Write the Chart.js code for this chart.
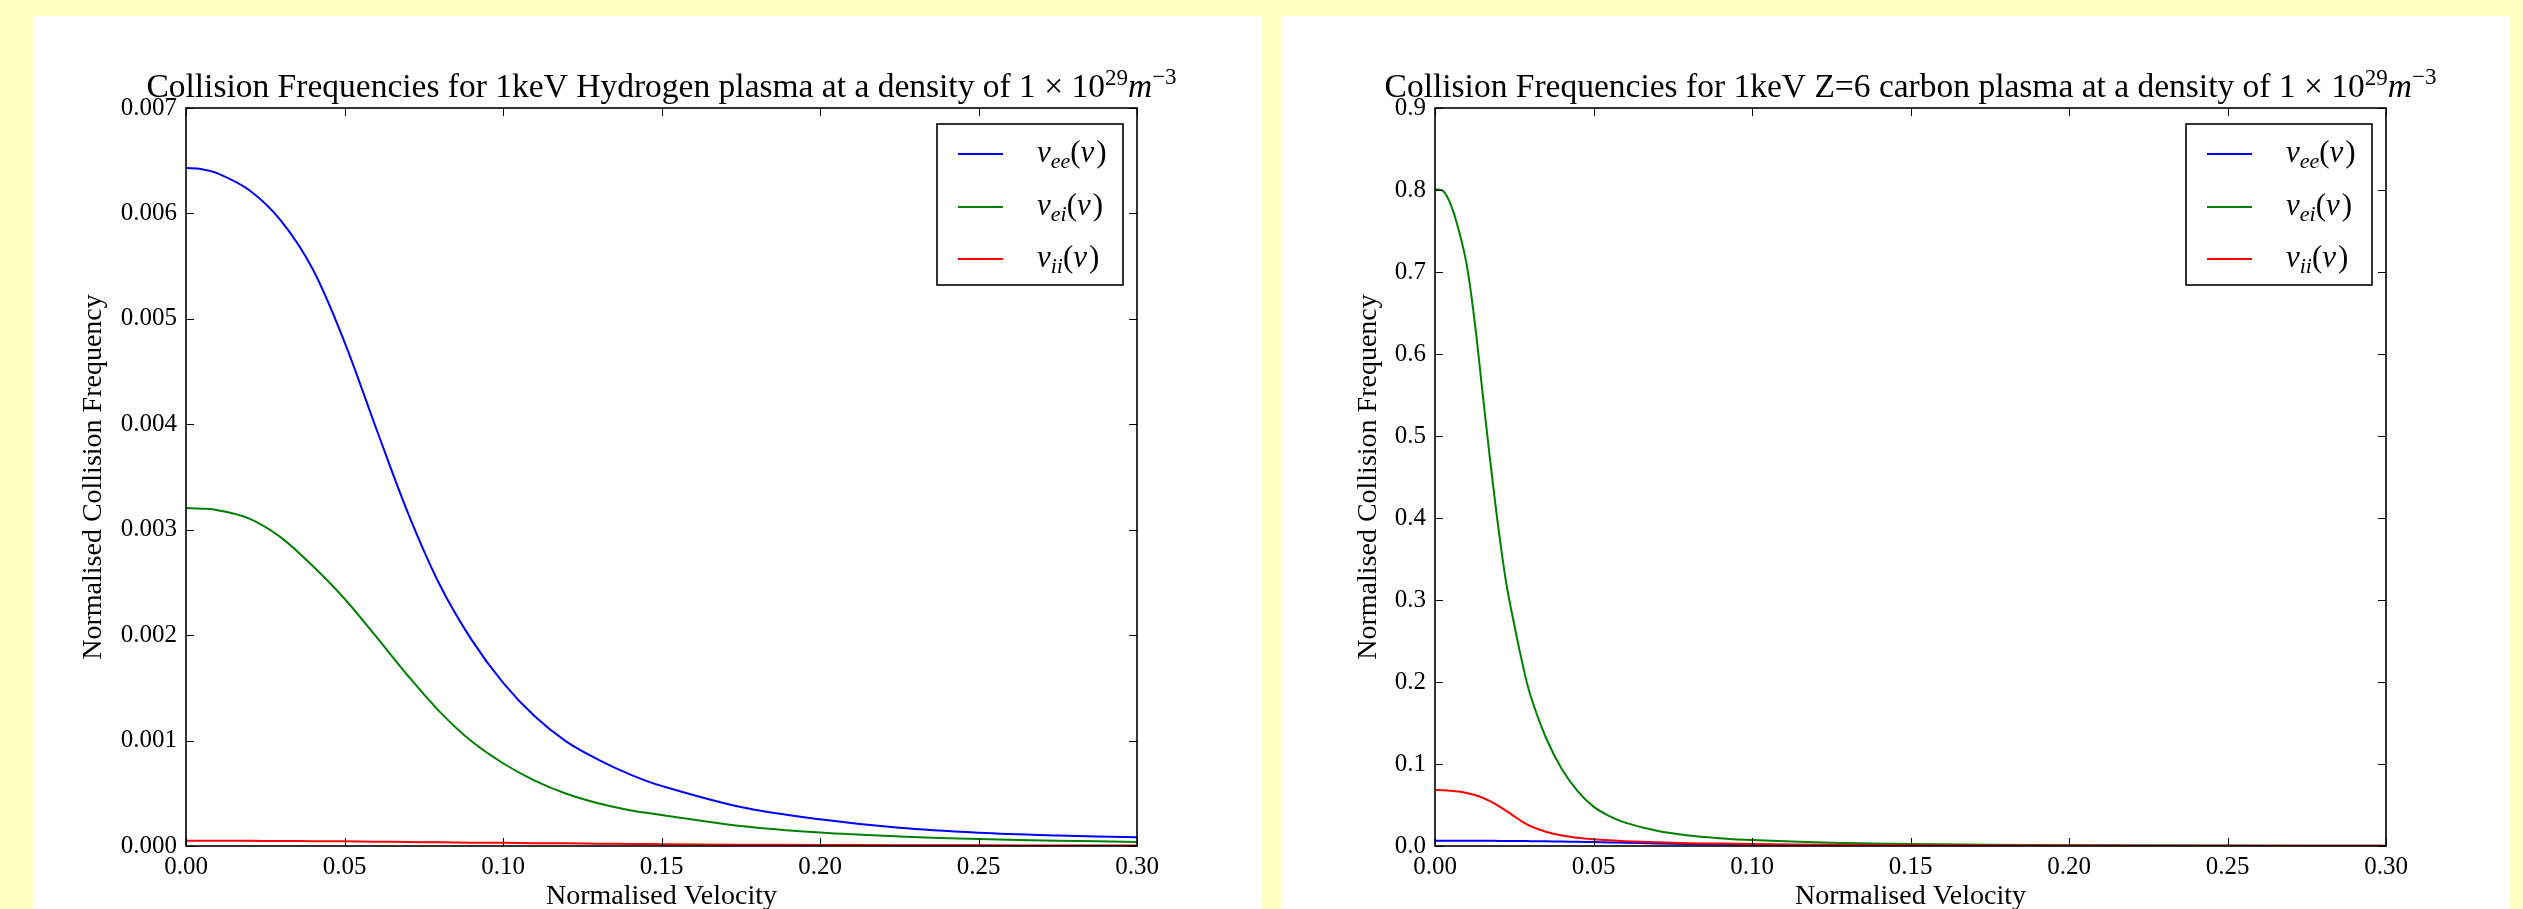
<!DOCTYPE html>
<html>
<head>
<meta charset="UTF-8">
<title>Collision Frequencies</title>
<style>
  html, body { margin: 0; padding: 0; }
  body { width: 2523px; height: 909px; background: #ffffc0; position: relative; overflow: hidden; }
  .panel { position: absolute; top: 16px; height: 893px; background: #fff; }
  #p1 { left: 33px; width: 1228px; }
  #p2 { left: 1281px; width: 1229px; }
  canvas { display: block; }
</style>
</head>
<body>
<div class="panel" id="p1"><canvas id="hydrogen" width="1228" height="893"></canvas></div>
<div class="panel" id="p2"><canvas id="carbon" width="1229" height="893"></canvas></div>

<script src="https://cdn.jsdelivr.net/npm/chart.js"></script>
<script>
// values
const hVelocity = [0, 0.005, 0.01, 0.02, 0.03, 0.04, 0.05, 0.06, 0.07, 0.08, 0.09, 0.1, 0.11, 0.12, 0.13, 0.14, 0.15, 0.175, 0.2, 0.225, 0.25, 0.275, 0.3];
const hEe = [0.00643, 0.00642, 0.00638, 0.00622, 0.00593, 0.00547, 0.00478, 0.00396, 0.00316, 0.00248, 0.00196, 0.00155, 0.00123, 0.00099, 0.00082, 0.00068, 0.00057, 0.00037, 0.000253, 0.000172, 0.000126, 0.0001, 0.0000825];
const hEi = [0.003205, 0.0032, 0.003185, 0.003105, 0.002925, 0.002655, 0.002345, 0.001985, 0.001615, 0.001275, 0.000995, 0.000785, 0.00062, 0.000495, 0.000405, 0.00034, 0.000295, 0.00019, 0.000127, 0.00009, 0.000066, 0.00005, 0.000039];
const hIi = [0.00005, 0.00005, 0.00005, 0.000049, 0.000048, 0.000046, 0.000044, 0.000041, 0.000038, 0.000035, 0.000032, 0.00003, 0.000027, 0.000025, 0.000022, 0.00002, 0.000017, 0.000013, 0.00001, 0.000008, 0.000006, 0.000005, 0.000004];

const cVelocity = [0, 0.0025, 0.005, 0.0075, 0.01, 0.0125, 0.015, 0.0175, 0.02, 0.0225, 0.025, 0.0275, 0.03, 0.035, 0.04, 0.045, 0.05, 0.055, 0.06, 0.07, 0.08, 0.09, 0.1, 0.125, 0.15, 0.2, 0.25, 0.3];
const cEe = [0.0065, 0.0065, 0.0065, 0.0064, 0.0064, 0.0064, 0.0063, 0.0063, 0.0062, 0.0061, 0.0061, 0.006, 0.0059, 0.0057, 0.0055, 0.0051, 0.0048, 0.0044, 0.004, 0.0031, 0.0025, 0.002, 0.0016, 0.00095, 0.00057, 0.00025, 0.00013, 0.00008];
const cEi = [0.801, 0.799, 0.782, 0.751, 0.709, 0.64, 0.553, 0.467, 0.388, 0.32, 0.27, 0.224, 0.185, 0.132, 0.094, 0.067, 0.048, 0.0365, 0.0285, 0.0185, 0.0128, 0.0095, 0.0072, 0.004, 0.0024, 0.001, 0.0005, 0.0003];
const cIi = [0.0683, 0.0681, 0.0675, 0.0664, 0.0647, 0.0622, 0.0588, 0.0544, 0.049, 0.0428, 0.0362, 0.0298, 0.0244, 0.0174, 0.0128, 0.01, 0.0082, 0.0069, 0.0059, 0.0045, 0.0035, 0.0029, 0.0024, 0.0015, 0.001, 0.0005, 0.0003, 0.0002];

const velocityTicks = [0, 0.05, 0.1, 0.15, 0.2, 0.25, 0.3];
const hFreqTicks = [0, 0.001, 0.002, 0.003, 0.004, 0.005, 0.006, 0.007];
const cFreqTicks = [0, 0.1, 0.2, 0.3, 0.4, 0.5, 0.6, 0.7, 0.8, 0.9];

const serif = "'Liberation Serif', 'DejaVu Serif', serif";

function pts(xs, ys) {
  return xs.map((x, i) => ({ x: x, y: ys[i] }));
}

// title with 10^29 m^-3
const titlePlugin = {
  id: 'panelTitle',
  afterDraw(chart, args, opts) {
    const ctx = chart.ctx;
    const area = chart.chartArea;
    const size = opts.size;
    const supSize = Math.round(size * 0.7);
    const parts = [
      { t: opts.text, f: size + 'px ' + serif, dy: 0 },
      { t: '29', f: supSize + 'px ' + serif, dy: -12 },
      { t: 'm', f: 'italic ' + size + 'px ' + serif, dy: 0 },
      { t: '\u22123', f: supSize + 'px ' + serif, dy: -13 }
    ];
    ctx.save();
    let w = 0;
    parts.forEach(p => { ctx.font = p.f; p.w = ctx.measureText(p.t).width; w += p.w; });
    let x = (area.left + area.right) / 2 - w / 2;
    ctx.fillStyle = '#000';
    ctx.textBaseline = 'alphabetic';
    parts.forEach(p => {
      ctx.font = p.f;
      ctx.fillText(p.t, x, opts.baseline + p.dy);
      x += p.w;
    });
    ctx.restore();
  }
};

// inward ticks on all four sides plus the frame
const framePlugin = {
  id: 'frameTicks',
  afterDraw(chart) {
    const ctx = chart.ctx;
    const a = chart.chartArea;
    const xs = chart.scales.x, ys = chart.scales.y;
    const len = 8;
    ctx.save();
    ctx.strokeStyle = '#000';
    ctx.lineWidth = 1;
    ctx.beginPath();
    xs.ticks.forEach(t => {
      const px = Math.round(xs.getPixelForValue(t.value)) + 0.5;
      ctx.moveTo(px, a.bottom); ctx.lineTo(px, a.bottom - len);
      ctx.moveTo(px, a.top); ctx.lineTo(px, a.top + len);
    });
    ys.ticks.forEach(t => {
      const py = Math.round(ys.getPixelForValue(t.value)) + 0.5;
      ctx.moveTo(a.left, py); ctx.lineTo(a.left + len, py);
      ctx.moveTo(a.right, py); ctx.lineTo(a.right - len, py);
    });
    ctx.stroke();
    ctx.lineWidth = 1.6;
    ctx.strokeRect(a.left, a.top, a.right - a.left, a.bottom - a.top);
    ctx.restore();
  }
};

// legend with nu_xx(v) labels
const legendPlugin = {
  id: 'nuLegend',
  afterDraw(chart) {
    const ctx = chart.ctx;
    const a = chart.chartArea;
    const bw = 186, bh = 161;
    const bx = a.right - 14 - bw, by = a.top + 16;
    ctx.save();
    ctx.fillStyle = '#fff';
    ctx.fillRect(bx, by, bw, bh);
    ctx.strokeStyle = '#000';
    ctx.lineWidth = 1.6;
    ctx.strokeRect(bx, by, bw, bh);
    const rows = [30, 83, 135];
    chart.data.datasets.forEach((ds, i) => {
      const ry = by + rows[i];
      ctx.strokeStyle = ds.borderColor;
      ctx.lineWidth = 2;
      ctx.beginPath();
      ctx.moveTo(bx + 21, ry);
      ctx.lineTo(bx + 66, ry);
      ctx.stroke();
      const base = ry + 8;
      let x = bx + 100;
      ctx.fillStyle = '#000';
      ctx.textBaseline = 'alphabetic';
      const parts = [
        { t: '\u03bd', f: 'italic 31px ' + serif, dy: 0 },
        { t: ds.sub, f: 'italic 22px ' + serif, dy: 6 },
        { t: '(', f: '31px ' + serif, dy: 0 },
        { t: 'v', f: 'italic 31px ' + serif, dy: 0 },
        { t: ')', f: '31px ' + serif, dy: 0 }
      ];
      parts.forEach(p => {
        ctx.font = p.f;
        ctx.fillText(p.t, x, base + p.dy);
        x += ctx.measureText(p.t).width + (p.t === 'v' ? 2 : 0);
      });
    });
    ctx.restore();
  }
};

function makeChart(id, cfg) {
  const ctx = document.getElementById(id).getContext('2d');
  return new Chart(ctx, {
    type: 'scatter',
    data: {
      datasets: [
        { label: '\u03bd_ee(v)', sub: 'ee', data: pts(cfg.v, cfg.ee), borderColor: '#0000ff', order: 3 },
        { label: '\u03bd_ei(v)', sub: 'ei', data: pts(cfg.v, cfg.ei), borderColor: '#008000', order: 2 },
        { label: '\u03bd_ii(v)', sub: 'ii', data: pts(cfg.v, cfg.ii), borderColor: '#ff0000', order: 1 }
      ].map(d => Object.assign(d, {
        showLine: true, pointRadius: 0, borderWidth: 2, fill: false,
        tension: 0.35, backgroundColor: d.borderColor
      }))
    },
    options: {
      responsive: false,
      animation: false,
      devicePixelRatio: 1,
      layout: { padding: { left: 0, top: 92, right: cfg.padRight, bottom: 0 } },
      plugins: {
        legend: { display: false },
        tooltip: { enabled: false },
        panelTitle: { text: cfg.title, size: 33.5, baseline: 81 }
      },
      scales: {
        x: {
          type: 'linear', min: 0, max: 0.3,
          afterBuildTicks: s => { s.ticks = velocityTicks.map(v => ({ value: v })); },
          afterFit: s => { s.height = 63; s.paddingLeft = 0; s.paddingRight = 0; },
          grid: { display: false, drawTicks: false },
          border: { display: false },
          ticks: {
            autoSkip: false, maxRotation: 0, padding: 6, color: '#000',
            font: { family: serif, size: 25 },
            callback: v => Number(v).toFixed(2)
          },
          title: {
            display: true, text: 'Normalised Velocity', color: '#000',
            font: { family: serif, size: 28, lineHeight: 0.9 }, padding: { top: 0, bottom: 0 }
          }
        },
        y: {
          type: 'linear', min: 0, max: cfg.yMax,
          afterBuildTicks: s => { s.ticks = cfg.yTicks.map(v => ({ value: v })); },
          afterFit: s => { s.width = cfg.axisWidth; },
          grid: { display: false, drawTicks: false },
          border: { display: false },
          ticks: {
            autoSkip: false, padding: 9, color: '#000',
            font: { family: serif, size: 25 },
            callback: v => Number(v).toFixed(cfg.digits)
          },
          title: {
            display: true, text: 'Normalised Collision Frequency', color: '#000',
            font: { family: serif, size: 28 }, padding: { top: cfg.titlePad, bottom: 0 }
          }
        }
      }
    },
    plugins: [framePlugin, legendPlugin, titlePlugin]
  });
}

makeChart('hydrogen', {
  v: hVelocity, ee: hEe, ei: hEi, ii: hIi,
  yMax: 0.007, yTicks: hFreqTicks, digits: 3,
  axisWidth: 153, padRight: 124, titlePad: 44,
  title: 'Collision Frequencies for 1keV Hydrogen plasma at a density of 1 \u00d7 10'
});

makeChart('carbon', {
  v: cVelocity, ee: cEe, ei: cEi, ii: cIi,
  yMax: 0.9, yTicks: cFreqTicks, digits: 1,
  axisWidth: 154, padRight: 124, titlePad: 71,
  title: 'Collision Frequencies for 1keV Z=6 carbon plasma at a density of 1 \u00d7 10'
});
</script>
</body>
</html>
